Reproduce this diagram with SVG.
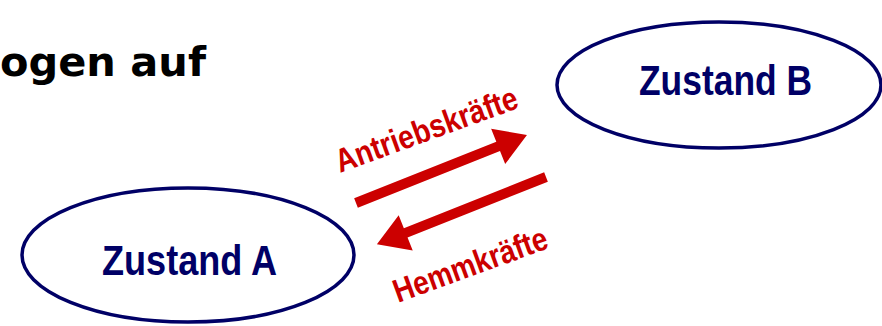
<svg xmlns="http://www.w3.org/2000/svg" width="882" height="326" viewBox="0 0 882 326">
<style>
.state{fill:#fff;stroke:#000066;stroke-width:3.5}
.stxt{font-family:"Liberation Sans",Arial,sans-serif;font-weight:bold;font-size:43px;fill:#000066}
.lbl{font-family:"Liberation Sans",Arial,sans-serif;font-weight:bold;font-size:33px;fill:#cc0000}
.arr{fill:#cc0000}
.title{font-family:"DejaVu Sans",sans-serif;font-weight:bold;font-size:41.5px;fill:#000}
</style>
<rect width="882" height="326" fill="#fff"/>
<text class="title" x="0" y="76">ogen auf</text>
<g id="nodeA">
<ellipse class="state" cx="188" cy="255" rx="166" ry="67"/>
<text class="stxt" x="102" y="275" textLength="175" lengthAdjust="spacingAndGlyphs">Zustand A</text>
</g>
<g id="nodeB">
<ellipse class="state" cx="719" cy="85" rx="162" ry="63"/>
<text class="stxt" x="639" y="95" textLength="173" lengthAdjust="spacingAndGlyphs">Zustand B</text>
</g>
<g id="connectors">
<polygon class="arr" transform="translate(356,203) rotate(-21.7)" points="0,-5 153,-5 153,-19 184,0 153,19 153,5 0,5"/>
<polygon class="arr" transform="translate(546,177) rotate(158.3)" points="0,-5 151,-5 151,-19 182,0 151,19 151,5 0,5"/>
<text class="lbl" transform="translate(340,173) rotate(-20)" textLength="192" lengthAdjust="spacingAndGlyphs">Antriebskräfte</text>
<text class="lbl" transform="translate(398,303) rotate(-20)" textLength="162" lengthAdjust="spacingAndGlyphs">Hemmkräfte</text>
</g>
</svg>
